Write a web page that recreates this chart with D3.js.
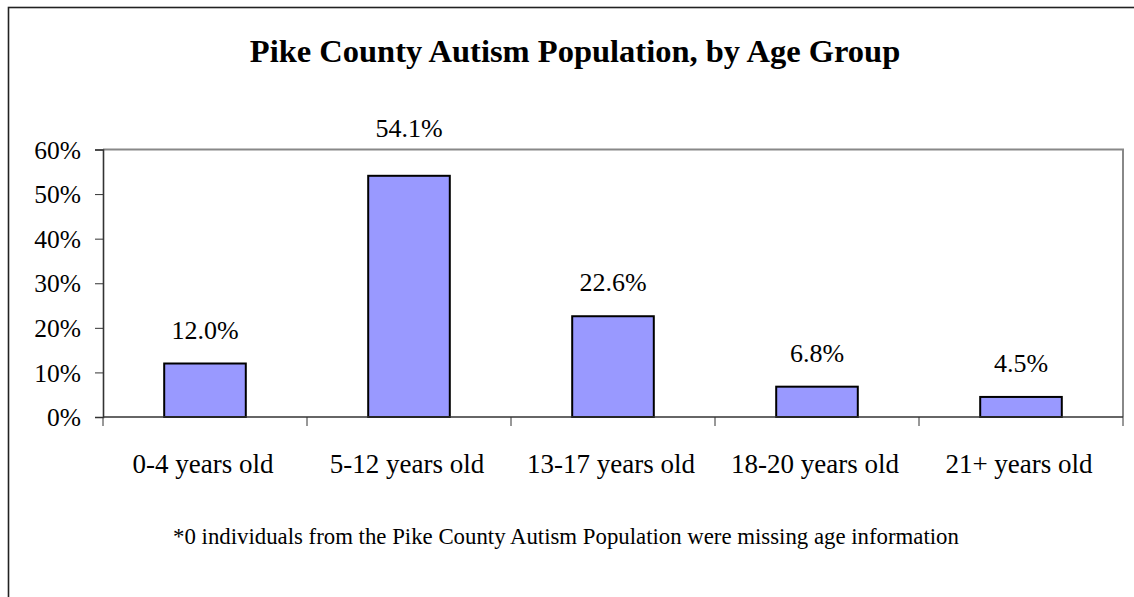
<!DOCTYPE html>
<html>
<head>
<meta charset="utf-8">
<script src="https://cdn.jsdelivr.net/npm/d3@7"></script>
<style>
  html, body { margin: 0; padding: 0; background: #fff; }
  svg { display: block; }
  text { font-family: "Liberation Serif", "Times New Roman", serif; fill: #000; }
</style>
</head>
<body>
<svg id="chart" width="1134" height="597"></svg>
<script>
const title = "Pike County Autism Population, by Age Group";
const footnote = "*0 individuals from the Pike County Autism Population were missing age information";
const categories = ["0-4 years old", "5-12 years old", "13-17 years old", "18-20 years old", "21+ years old"];
const values = [12.0, 54.1, 22.6, 6.8, 4.5];
const yTicks = [0, 10, 20, 30, 40, 50, 60];

const svg = d3.select("#chart");
const plot = { left: 103, right: 1123, top: 149.5, bottom: 417 };

// outer chart border
svg.append("rect")
  .attr("x", 8.5).attr("y", 7.5)
  .attr("width", 1150).attr("height", 620)
  .attr("fill", "#fff").attr("stroke", "#222").attr("stroke-width", 1.6);

const x = d3.scaleBand().domain(categories).range([plot.left, plot.right]).padding(0);
const y = d3.scaleLinear().domain([0, 60]).range([plot.bottom, plot.top]);

// plot frame: top & right gray
svg.append("path")
  .attr("d", `M${plot.left},${plot.top}H${plot.right}V${plot.bottom}`)
  .attr("fill", "none").attr("stroke", "#888").attr("stroke-width", 2);

// bars
const barW = x.bandwidth() * 0.4;
svg.append("g").selectAll("rect").data(values).join("rect")
  .attr("x", (d, i) => x(categories[i]) + (x.bandwidth() - barW) / 2)
  .attr("y", d => y(d))
  .attr("width", barW)
  .attr("height", d => y(0) - y(d))
  .attr("fill", "#9999FF")
  .attr("stroke", "#000")
  .attr("stroke-width", 2);

// y axis
const yAxis = d3.axisLeft(y).tickValues(yTicks).tickSize(8).tickPadding(14)
  .tickFormat(d => d + "%");
const gy = svg.append("g").attr("transform", `translate(${plot.left},0)`).call(yAxis);
gy.select(".domain").attr("stroke", "#333").attr("stroke-width", 1.6);
gy.selectAll(".tick line").attr("stroke", "#333").attr("stroke-width", 1);
gy.selectAll(".tick text")
  .attr("font-family", "Liberation Serif, serif")
  .attr("font-size", 25.5).attr("fill", "#000").attr("dy", "0.34em");

// x axis: ticks at category boundaries
const gx = svg.append("g").attr("transform", `translate(0,${plot.bottom})`);
gx.append("line").attr("x1", plot.left).attr("x2", plot.right)
  .attr("stroke", "#333").attr("stroke-width", 1.6);
const bounds = categories.map(c => x(c)).concat([x(categories[categories.length - 1]) + x.bandwidth()]);
gx.selectAll("line.tk").data(bounds).join("line").attr("class", "tk")
  .attr("x1", d => d).attr("x2", d => d).attr("y1", 0).attr("y2", 9)
  .attr("stroke", "#333").attr("stroke-width", 1);
gx.selectAll("text").data(categories).join("text")
  .attr("x", d => x(d) + x.bandwidth() / 2 - 2)
  .attr("y", 56)
  .attr("text-anchor", "middle")
  .attr("font-size", 27)
  .text(d => d);

// data labels (pushed above the frame when they would collide with it)
const fmt = d3.format(".1f");
svg.append("g").selectAll("text").data(values).join("text")
  .attr("x", (d, i) => x(categories[i]) + x.bandwidth() / 2)
  .attr("y", d => {
    const ly = y(d) - 25;
    return (ly - 20 < plot.top) ? plot.top - 13 : ly;
  })
  .attr("text-anchor", "middle")
  .attr("font-size", 26)
  .text(d => fmt(d) + "%");

// title
svg.append("text")
  .attr("x", 575).attr("y", 62)
  .attr("text-anchor", "middle")
  .attr("font-size", 32.5).attr("font-weight", "bold")
  .text(title);

// footnote
svg.append("text")
  .attr("x", 566).attr("y", 544)
  .attr("text-anchor", "middle")
  .attr("font-size", 22.8)
  .text(footnote);
</script>
</body>
</html>
